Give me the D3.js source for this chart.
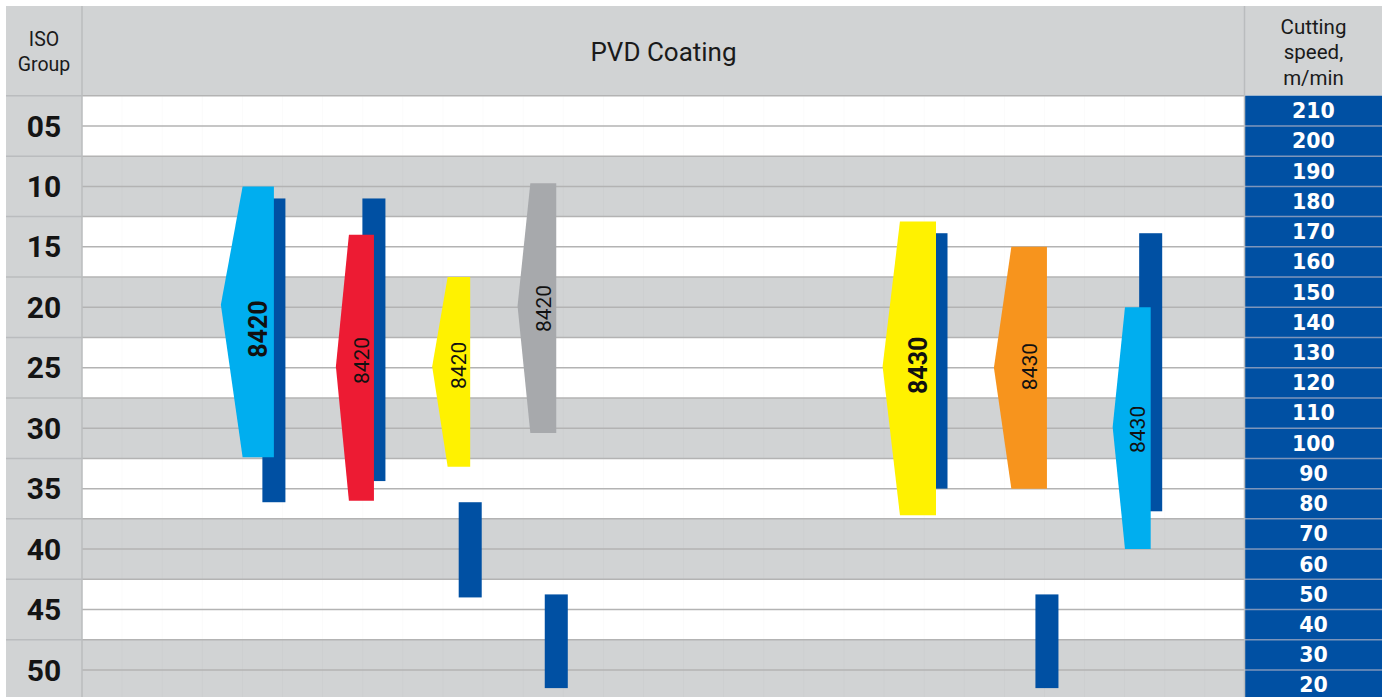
<!DOCTYPE html>
<html>
<head>
<meta charset="utf-8">
<script src="https://cdn.jsdelivr.net/npm/d3@7/dist/d3.min.js"></script>
<style>
  html, body { margin: 0; padding: 0; background: #ffffff; }
  svg { display: block; }
</style>
</head>
<body>
<div id="chart"></div>
<script>
// ISO group rows and cutting-speed cells
const isoGroups = [5, 10, 15, 20, 25, 30, 35, 40, 45, 50];
const isoLabels = ['05', '10', '15', '20', '25', '30', '35', '40', '45', '50'];
const speedTicks = [210, 200, 190, 180, 170, 160, 150, 140, 130, 120, 110, 100, 90, 80, 70, 60, 50, 40, 30, 20];

// Grades: ISO application range (min / main / max) and cutting speed range (m/min)
const grades   = ['8420', '8420', '8420', '8420', '8430', '8430', '8430'];
const isoMin   = [10, 14, 17.5, 9.75, 12.9, 15, 20];
const isoMain  = [19.8, 24.9, 24.9, 19.9, 24.9, 25, 29.9];
const isoMax   = [32.4, 36, 33.2, 30.4, 37.2, 35, 40];
const speedMax = [181, 181, 80.5, 50, 169.5, 50, 169.5];
const speedMin = [80.5, 87.5, 49, 19, 85, 19, 77.5];
const labelIso = [21.8, 24.4, 24.8, 20.1, 24.8, 24.9, 30.1];
const boldLabel = [true, false, false, false, true, false, false];
const fills = ['#00aeef', '#ed1b33', '#fff200', '#a7a9ac', '#fff200', '#f7941d', '#00aeef'];

// Horizontal layout of each grade column (percent of plot width)
const columnPos   = [16.5, 25.1, 33.38, 40.78, 73.43, 82.97, 91.89];
const bodyWidth   = [2.69, 2.15, 1.94, 2.23, 3.1, 3.06, 2.21];
const pointDepth  = [1.87, 1.12, 1.33, 1.1, 1.49, 1.5, 1.06];
const barWidth = 1.98;

const W = 1386, H = 697;
const frame = { left: 6, top: 6, right: 1382, bottom: 702 };
const plotLeft = 82, plotRight = 1245, headerBottom = 95.7;
const rowStep = 12.09; // px per ISO unit

const GRAY = '#d1d3d4', LINE = '#b3b3b3', BLUE = '#0050a3';

const yIso = d3.scaleLinear().domain([2.5, 52.5]).range([headerBottom, headerBottom + 50 * rowStep]);
const ySpeed = d3.scaleLinear().domain([215, 15]).range([headerBottom, headerBottom + 50 * rowStep]);
const x = d3.scaleLinear().domain([0, 100]).range([plotLeft, plotRight]);

const svg = d3.select('#chart').append('svg')
  .attr('width', W).attr('height', H);

// Header row
svg.append('rect')
  .attr('x', frame.left).attr('y', frame.top)
  .attr('width', frame.right - frame.left).attr('height', headerBottom - frame.top)
  .attr('fill', GRAY);

// ISO column
svg.append('rect')
  .attr('x', frame.left).attr('y', headerBottom)
  .attr('width', plotLeft - frame.left).attr('height', frame.bottom - headerBottom)
  .attr('fill', GRAY);

// Alternating bands in the plot area
svg.append('g').selectAll('rect')
  .data(isoGroups)
  .join('rect')
  .attr('x', plotLeft)
  .attr('y', d => yIso(d - 2.5))
  .attr('width', plotRight - plotLeft)
  .attr('height', d => yIso(d + 2.5) - yIso(d - 2.5))
  .attr('fill', (d, i) => i % 2 === 0 ? '#ffffff' : GRAY);

// Faint vertical grid in the plot area
svg.append('g').selectAll('line')
  .data(d3.range(1, 29))
  .join('line')
  .attr('x1', k => x(k * 100 / 29)).attr('x2', k => x(k * 100 / 29))
  .attr('y1', headerBottom).attr('y2', frame.bottom)
  .attr('stroke', 'rgba(0,0,0,0.018)').attr('stroke-width', 1);

// Horizontal row lines (every half ISO group)
svg.append('g').selectAll('line')
  .data(d3.range(2.5, 53, 2.5))
  .join('line')
  .attr('x1', plotLeft).attr('x2', plotRight)
  .attr('y1', d => yIso(d)).attr('y2', d => yIso(d))
  .attr('stroke', LINE).attr('stroke-width', 1.5);

// ISO column separators (group boundaries only)
svg.append('g').selectAll('line')
  .data(d3.range(2.5, 53, 5))
  .join('line')
  .attr('x1', frame.left).attr('x2', plotLeft)
  .attr('y1', d => yIso(d)).attr('y2', d => yIso(d))
  .attr('stroke', '#babcbe').attr('stroke-width', 1.5);

// Speed column cells
const speedCells = svg.append('g');
speedCells.selectAll('rect')
  .data(speedTicks)
  .join('rect')
  .attr('x', plotRight).attr('y', d => ySpeed(d + 5))
  .attr('width', frame.right - plotRight)
  .attr('height', d => ySpeed(d - 5) - ySpeed(d + 5))
  .attr('fill', BLUE);
speedCells.selectAll('line')
  .data(speedTicks.slice(1))
  .join('line')
  .attr('x1', plotRight).attr('x2', frame.right)
  .attr('y1', d => ySpeed(d + 5)).attr('y2', d => ySpeed(d + 5))
  .attr('stroke', '#7d95bb').attr('stroke-width', 1.5);
speedCells.selectAll('text')
  .data(speedTicks)
  .join('text')
  .attr('x', (plotRight + frame.right) / 2)
  .attr('y', d => ySpeed(d))
  .attr('dy', '0.36em')
  .attr('text-anchor', 'middle')
  .attr('font-family', '"DejaVu Sans", sans-serif')
  .attr('font-weight', 'bold')
  .attr('font-size', 20.5)
  .attr('fill', '#ffffff')
  .text(d => d);

// Vertical column separators
[plotLeft, plotRight - 0.5].forEach(xx => {
  svg.append('line')
    .attr('x1', xx).attr('x2', xx)
    .attr('y1', frame.top).attr('y2', frame.bottom)
    .attr('stroke', '#babcbe').attr('stroke-width', 1.5);
});

// ISO group labels
svg.append('g').selectAll('text')
  .data(isoGroups)
  .join('text')
  .attr('x', (frame.left + plotLeft) / 2)
  .attr('y', d => yIso(d))
  .attr('dy', '0.355em')
  .attr('text-anchor', 'middle')
  .attr('font-family', 'Roboto, sans-serif')
  .attr('font-weight', 'bold')
  .attr('font-size', 30)
  .attr('fill', '#141414')
  .text((d, i) => isoLabels[i]);

// Header texts
const headerFont = 'Roboto, sans-serif';
const isoHead = svg.append('text')
  .attr('text-anchor', 'middle')
  .attr('font-family', headerFont).attr('font-size', 19.5).attr('fill', '#1a1a1a');
isoHead.append('tspan').attr('x', (frame.left + plotLeft) / 2).attr('y', 46).text('ISO');
isoHead.append('tspan').attr('x', (frame.left + plotLeft) / 2).attr('y', 71).text('Group');

svg.append('text')
  .attr('x', (plotLeft + plotRight) / 2).attr('y', 61)
  .attr('text-anchor', 'middle')
  .attr('font-family', headerFont).attr('font-size', 26).attr('fill', '#1a1a1a')
  .text('PVD Coating');

const speedHead = svg.append('text')
  .attr('text-anchor', 'middle')
  .attr('font-family', headerFont).attr('font-size', 20.5).attr('fill', '#1a1a1a');
['Cutting', 'speed,', 'm/min'].forEach((t, i) => {
  speedHead.append('tspan')
    .attr('x', (plotRight + frame.right) / 2)
    .attr('y', 33.5 + i * 25.5)
    .text(t);
});

// Cutting speed bars (behind the grade shapes)
svg.append('g').selectAll('rect')
  .data(grades)
  .join('rect')
  .attr('x', (d, i) => x(columnPos[i] - barWidth / 2))
  .attr('y', (d, i) => ySpeed(speedMax[i]))
  .attr('width', x(barWidth) - x(0))
  .attr('height', (d, i) => ySpeed(speedMin[i]) - ySpeed(speedMax[i]))
  .attr('fill', BLUE);

// Grade shapes: flat right edge, pointed left side at the main ISO value
const shapes = svg.append('g');
shapes.selectAll('polygon')
  .data(grades)
  .join('polygon')
  .attr('points', (d, i) => {
    const r = x(columnPos[i]);
    const l = x(columnPos[i] - bodyWidth[i]);
    const p = x(columnPos[i] - bodyWidth[i] - pointDepth[i]);
    const t = yIso(isoMin[i]), m = yIso(isoMain[i]), b = yIso(isoMax[i]);
    return [[r, t], [l, t], [p, m], [l, b], [r, b]].map(q => q.join(',')).join(' ');
  })
  .attr('fill', (d, i) => fills[i]);

shapes.selectAll('text')
  .data(grades)
  .join('text')
  .attr('transform', (d, i) =>
    `translate(${x(columnPos[i] - bodyWidth[i] / 2)},${yIso(labelIso[i])}) rotate(-90)`)
  .attr('dy', '0.355em')
  .attr('text-anchor', 'middle')
  .attr('font-family', 'Roboto, sans-serif')
  .attr('font-weight', (d, i) => boldLabel[i] ? 'bold' : 'normal')
  .attr('font-size', (d, i) => boldLabel[i] ? 25 : 21)
  .attr('fill', '#111111')
  .text(d => d);
</script>
</body>
</html>
